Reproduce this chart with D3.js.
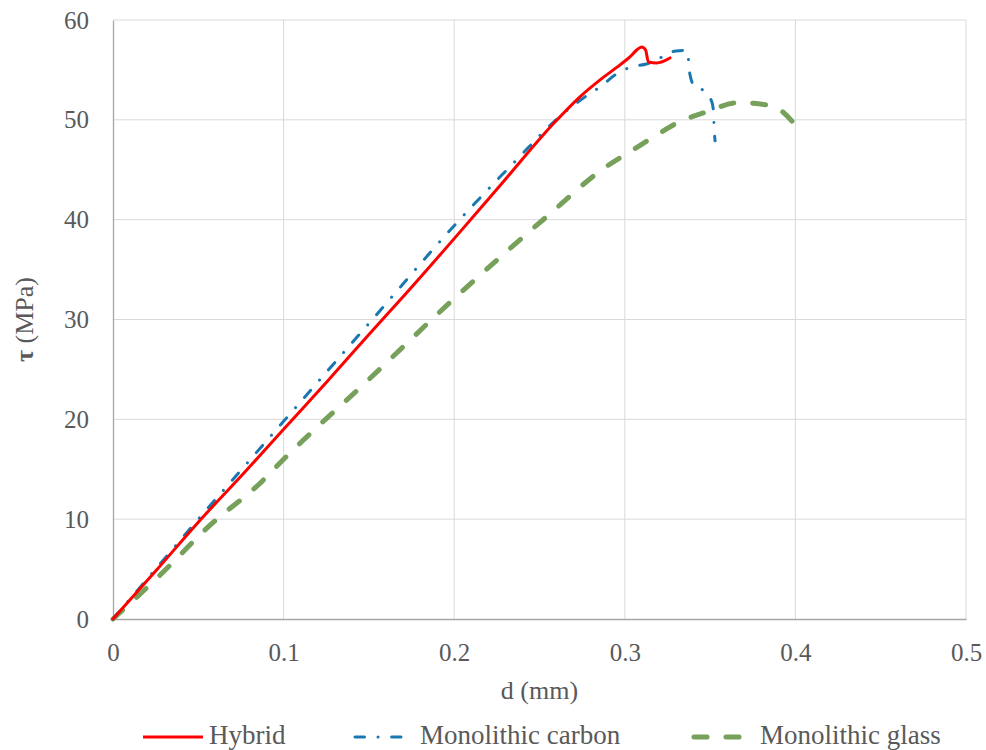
<!DOCTYPE html>
<html>
<head>
<meta charset="utf-8">
<script src="https://cdn.jsdelivr.net/npm/d3@7"></script>
<style>
  body { margin: 0; background: #fff; }
  svg { display: block; }
  text { font-family: "Liberation Serif", "Times New Roman", serif; fill: #595959; }
</style>
</head>
<body>
<svg id="chart" width="986" height="750"></svg>
<script>
const xTicks = [0, 0.1, 0.2, 0.3, 0.4, 0.5];
const yTicks = [0, 10, 20, 30, 40, 50, 60];
const seriesNames = ["Hybrid", "Monolithic carbon", "Monolithic glass"];

const hybrid = [
  [0, 0], [0.025, 4.8], [0.05, 9.7], [0.075, 14.3], [0.1, 19.0], [0.125, 23.7], [0.15, 28.5],
  [0.1712, 32.5], [0.2, 38.1], [0.2298, 44.0], [0.2581, 49.6], [0.2737, 52.3],
  [0.2855, 54.0], [0.2972, 55.5], [0.303, 56.3], [0.307, 57.0], [0.3099, 57.3],
  [0.3122, 57.0], [0.3138, 55.8], [0.3187, 55.7], [0.3265, 56.2]
];
const carbon = [
  [0, 0], [0.025, 5.0], [0.05, 10.0], [0.075, 14.9], [0.1, 19.8], [0.15, 29.6],
  [0.2, 39.4], [0.2366, 46.0], [0.261, 50.2], [0.2767, 52.3], [0.2855, 53.3],
  [0.2952, 54.6], [0.303, 55.25], [0.3128, 55.6], [0.3187, 55.9], [0.3224, 56.4],
  [0.33, 56.9], [0.3363, 56.95], [0.3375, 55.7], [0.338, 54.7], [0.341, 53.3],
  [0.3465, 52.9], [0.351, 51.8], [0.352, 50.8], [0.3523, 49.4], [0.3529, 47.9]
];
const glass = [
  [0, 0], [0.0276, 4.4], [0.0569, 9.4], [0.0862, 13.6], [0.1, 16.0], [0.15, 24.0],
  [0.2, 32.1], [0.2542, 40.3], [0.2873, 45.1], [0.3048, 47.0], [0.3165, 48.25],
  [0.332, 49.8], [0.348, 50.8], [0.3656, 51.7], [0.369, 51.7], [0.383, 51.5],
  [0.391, 51.0], [0.4008, 49.3]
];

const svg = d3.select("#chart");
const margin = { left: 113, right: 20, top: 20, bottom: 131 };
const W = 986, H = 750;
const x = d3.scaleLinear().domain([0, 0.5]).range([margin.left, W - margin.right]);
const y = d3.scaleLinear().domain([0, 60]).range([H - margin.bottom, margin.top]);

// gridlines
svg.append("g").selectAll("line").data(xTicks.slice(1)).join("line")
  .attr("x1", d => x(d)).attr("x2", d => x(d))
  .attr("y1", y(0)).attr("y2", y(60))
  .attr("stroke", "#d9d9d9").attr("stroke-width", 1);
svg.append("g").selectAll("line").data(yTicks.slice(1)).join("line")
  .attr("x1", x(0)).attr("x2", x(0.5))
  .attr("y1", d => y(d)).attr("y2", d => y(d))
  .attr("stroke", "#d9d9d9").attr("stroke-width", 1);

// axes
const xAxis = svg.append("g").attr("transform", `translate(0,${y(0)})`)
  .call(d3.axisBottom(x).tickValues(xTicks).tickSize(0).tickPadding(24).tickFormat(d => d3.format("")(d)));
const yAxis = svg.append("g").attr("transform", `translate(${x(0)},0)`)
  .call(d3.axisLeft(y).tickValues(yTicks).tickSize(0).tickPadding(24));
[xAxis, yAxis].forEach(a => {
  a.select(".domain").attr("stroke", "#a6a6a6").attr("stroke-width", 1.3);
  a.selectAll("text").style("font-family", "'Liberation Serif', serif").style("font-size", "25px").attr("fill", "#595959");
});

// axis titles
svg.append("text").attr("x", (x(0) + x(0.5)) / 2).attr("y", 699)
  .attr("text-anchor", "middle").style("font-size", "26px").text("d (mm)");
const yt = svg.append("text").attr("transform", `translate(33,${(y(0) + y(60)) / 2}) rotate(-90)`)
  .attr("text-anchor", "middle").style("font-size", "26px");
yt.append("tspan").style("font-weight", "bold").text("τ");
yt.append("tspan").text(" (MPa)");

// series
const line = d3.line().x(d => x(d[0])).y(d => y(d[1])).curve(d3.curveMonotoneX);
const blueDash = "9.5,13.5,0.1,13.5";
const greenDash = "13,19";
const styles = [
  { data: glass, color: "#77a05a", width: 5, dash: greenDash },
  { data: carbon, color: "#1a78b0", width: 3, dash: blueDash },
  { data: hybrid, color: "#ff0000", width: 3, dash: null }
];
styles.forEach(s => {
  svg.append("path").datum(s.data).attr("d", line)
    .attr("fill", "none").attr("stroke", s.color).attr("stroke-width", s.width)
    .attr("stroke-linecap", "round").attr("stroke-linejoin", "round")
    .attr("stroke-dasharray", s.dash);
});

// legend
const legend = [
  { name: seriesNames[0], color: "#ff0000", width: 3, dash: null, x1: 143, x2: 203, tx: 209 },
  { name: seriesNames[1], color: "#1a78b0", width: 3, dash: blueDash, x1: 355, x2: 401, tx: 420 },
  { name: seriesNames[2], color: "#77a05a", width: 5, dash: greenDash, x1: 694, x2: 740, tx: 760 }
];
legend.forEach(l => {
  svg.append("line").attr("x1", l.x1).attr("x2", l.x2).attr("y1", 737).attr("y2", 737)
    .attr("stroke", l.color).attr("stroke-width", l.width)
    .attr("stroke-linecap", l.dash ? "round" : "butt").attr("stroke-dasharray", l.dash);
  svg.append("text").attr("x", l.tx).attr("y", 744).style("font-size", "27px").text(l.name);
});
</script>
</body>
</html>
